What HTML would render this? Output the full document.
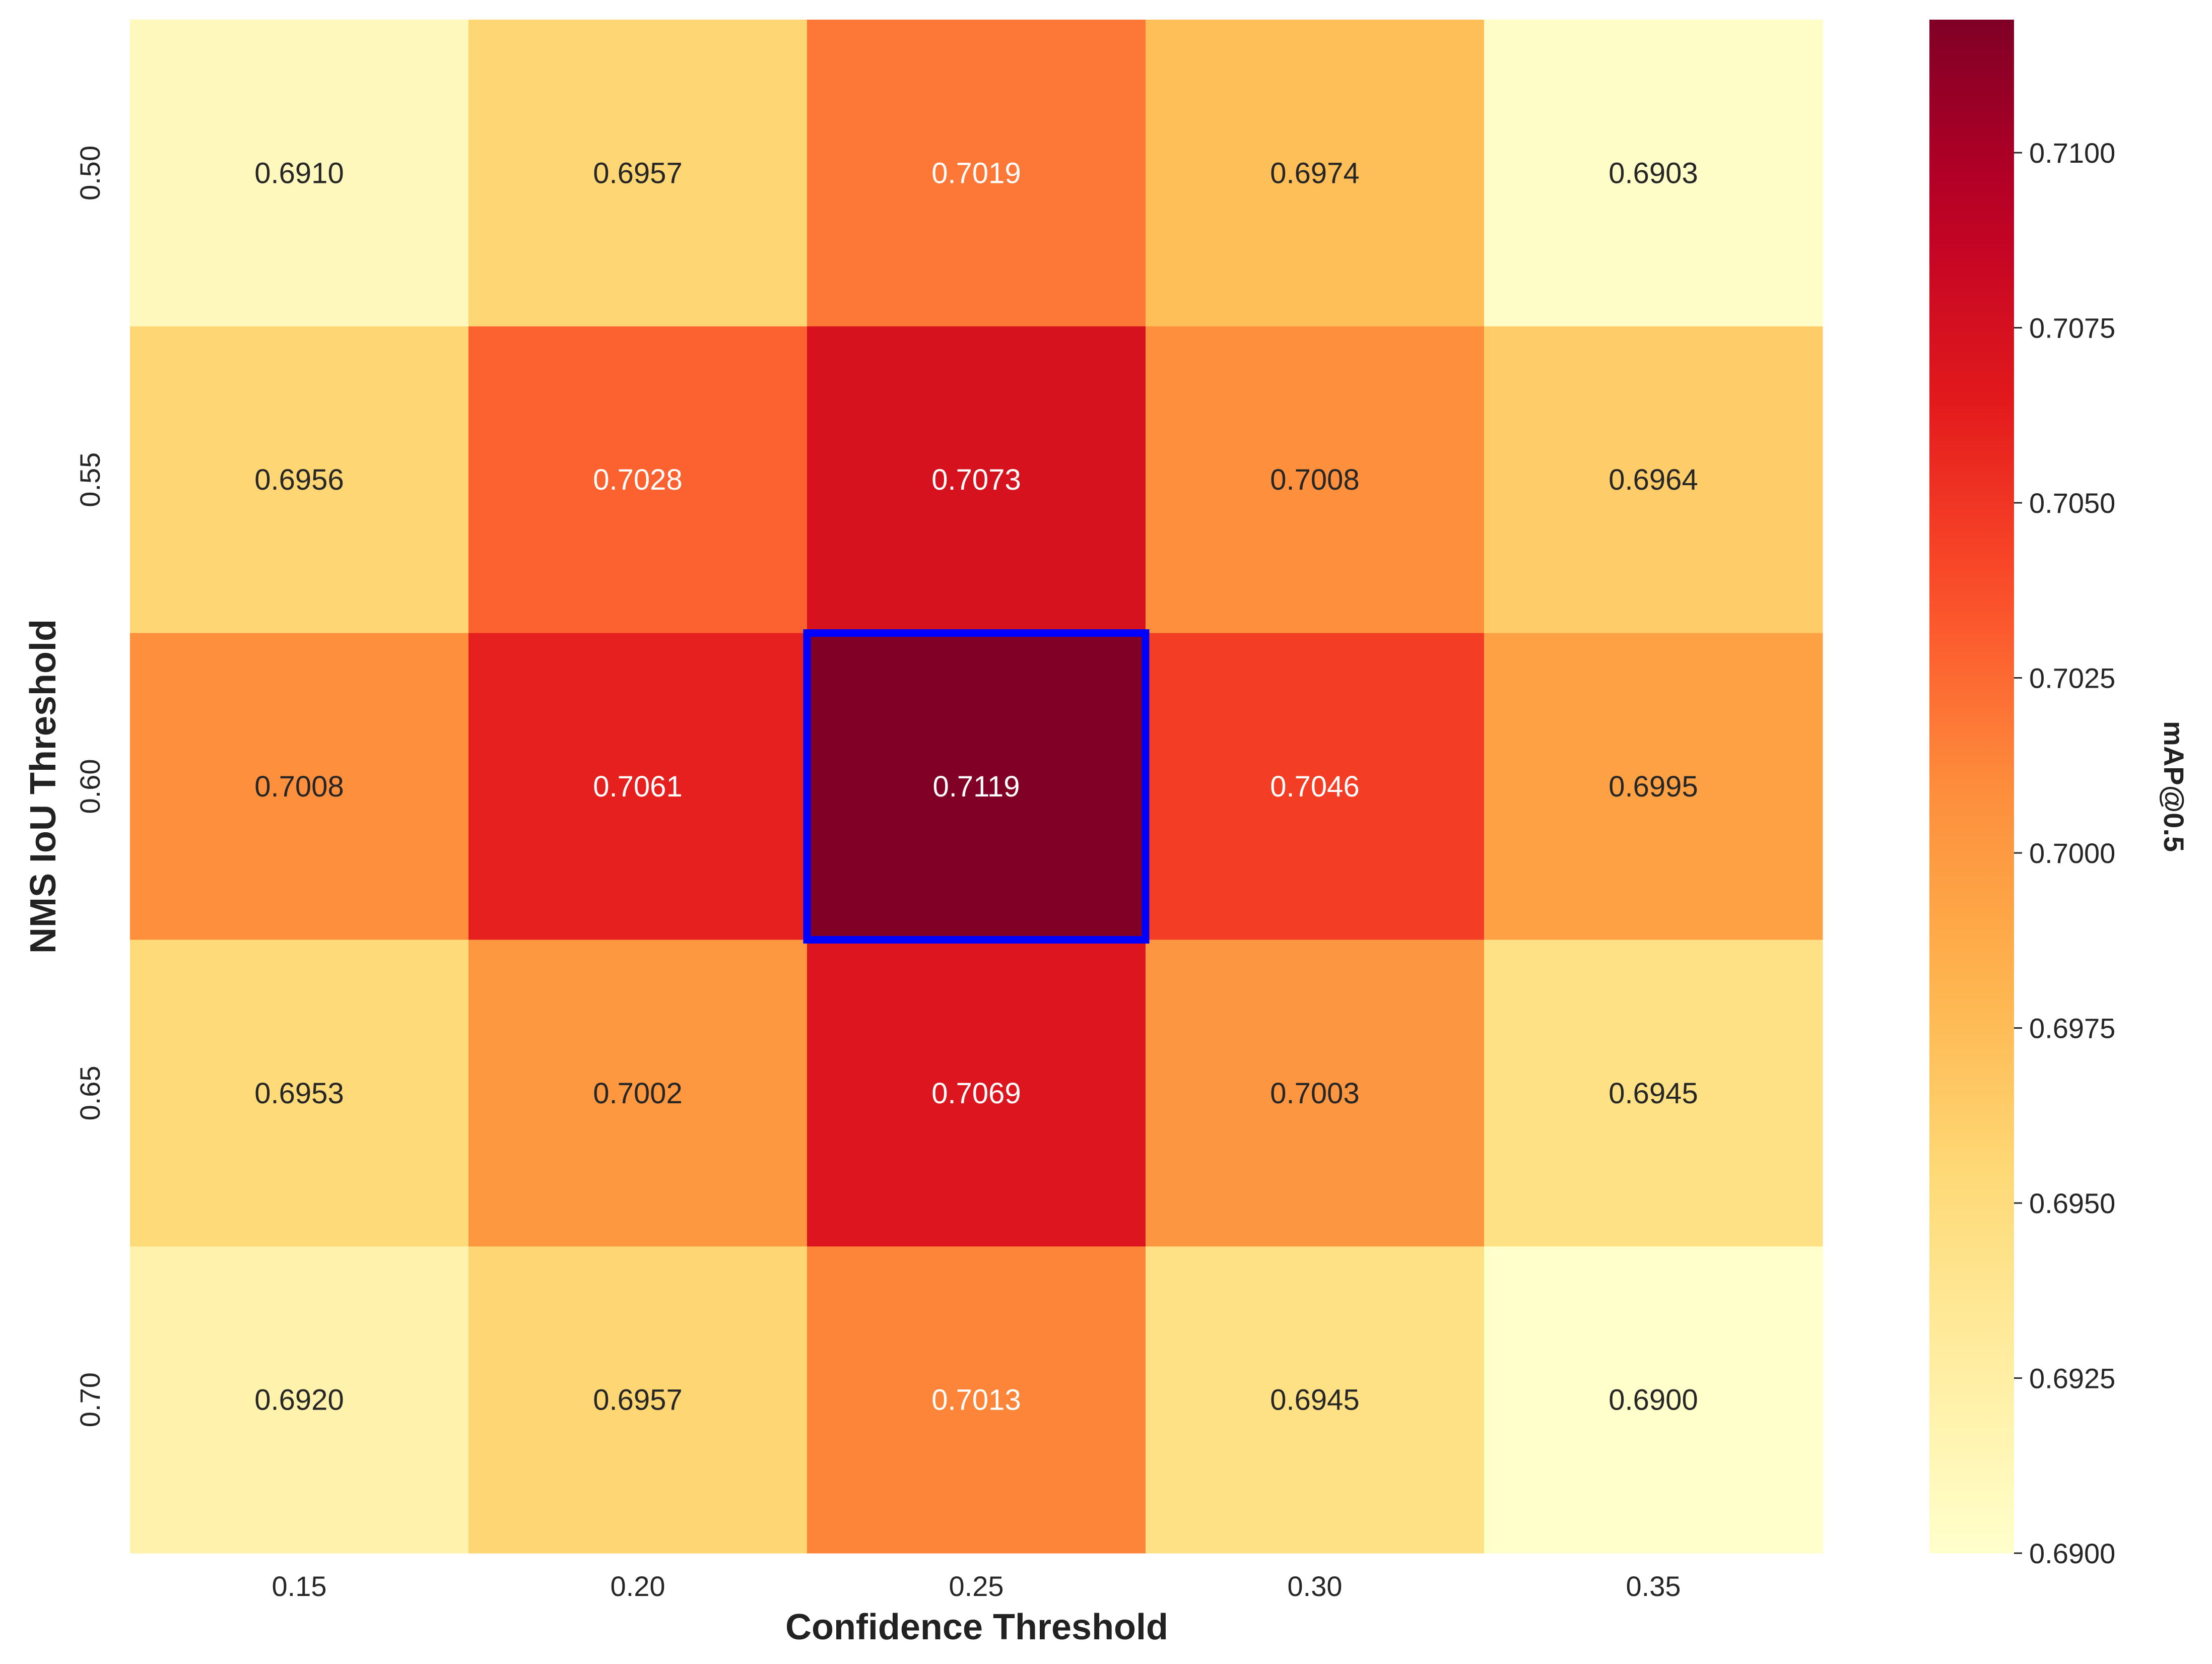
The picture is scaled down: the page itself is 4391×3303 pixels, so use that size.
<!DOCTYPE html>
<html><head><meta charset="utf-8"><style>
body{margin:0;background:#fff;}
svg text{font-family:"Liberation Sans",Arial,sans-serif;}
</style></head><body>
<svg id="chart" width="4391" height="3298" viewBox="0 0 4391 3298" xmlns="http://www.w3.org/2000/svg">
<defs><linearGradient id="cbgrad" x1="0" y1="1" x2="0" y2="0"></linearGradient></defs>
<g id="cells"></g>
<g id="labels"></g>
<g id="axes"></g>
<text x="1939" y="3254" font-size="72" font-weight="bold" text-anchor="middle" fill="#222">Confidence Threshold</text>
<text transform="translate(110,1561) rotate(-90)" font-size="72" font-weight="bold" text-anchor="middle" fill="#222">NMS IoU Threshold</text>
<rect x="3830" y="39" width="168" height="3044" fill="url(#cbgrad)"/>
<g id="cbticks"></g>
<text transform="translate(4296,1561) rotate(90)" font-size="56" font-weight="bold" text-anchor="middle" fill="#222">mAP@0.5</text>
</svg>
<script>
const xCategories = ["0.15","0.20","0.25","0.30","0.35"];
const yCategories = ["0.50","0.55","0.60","0.65","0.70"];
const row050 = [0.6910,0.6957,0.7019,0.6974,0.6903];
const row055 = [0.6956,0.7028,0.7073,0.7008,0.6964];
const row060 = [0.7008,0.7061,0.7119,0.7046,0.6995];
const row065 = [0.6953,0.7002,0.7069,0.7003,0.6945];
const row070 = [0.6920,0.6957,0.7013,0.6945,0.6900];
const values = [row050,row055,row060,row065,row070];
const cbTicks = [0.6900,0.6925,0.6950,0.6975,0.7000,0.7025,0.7050,0.7075,0.7100];
const highlight = [2,2];

const NS="http://www.w3.org/2000/svg";
const L=258,R=3618,T=39,B=3083,CBT=39,CBB=3083,CBX=3830,CBW=168;
const all=values.flat();
const vmin=Math.min(...all),vmax=Math.max(...all);
const cw=(R-L)/xCategories.length, ch=(B-T)/yCategories.length;
const xPos=i=>L+i*cw, yPos=j=>T+j*ch;
const cbY=v=>CBB-(v-vmin)/(vmax-vmin)*(CBB-CBT);
const stops=["#ffffcc","#ffeda0","#fed976","#feb24c","#fd8d3c","#fc4e2a","#e31a1c","#bd0026","#800026"].map(h=>[1,3,5].map(k=>parseInt(h.substr(k,2),16)));
function cmap(t){t=Math.max(0,Math.min(1,t));const p=t*(stops.length-1);const i=Math.min(Math.floor(p),stops.length-2);const f=p-i;return stops[i].map((c,k)=>Math.round(c+(stops[i+1][k]-c)*f));}
function lum(c){const l=c.map(x=>{x/=255;return x<=0.03928?x/12.92:Math.pow((x+0.055)/1.055,2.4);});return 0.2126*l[0]+0.7152*l[1]+0.0722*l[2];}
function mk(tag,attrs,parent,txt){const e=document.createElementNS(NS,tag);for(const k in attrs)e.setAttribute(k,attrs[k]);if(txt!==undefined)e.textContent=txt;parent.appendChild(e);return e;}
const cells=document.getElementById('cells'),labels=document.getElementById('labels'),axes=document.getElementById('axes');
values.forEach((row,j)=>row.forEach((v,i)=>{
  const c=cmap((v-vmin)/(vmax-vmin));
  const r=mk('rect',{x:xPos(i),y:yPos(j),width:cw+0.5,height:ch+0.5,fill:`rgb(${c})`},cells);
  
  
  const t=mk('text',{x:xPos(i)+cw/2,y:yPos(j)+ch/2+20,'font-size':58,'text-anchor':'middle',fill:lum(c)>0.408?'#262626':'#ffffff'},labels,v.toFixed(4));
  
  
}));
const hl=mk('rect',{x:xPos(highlight[1]),y:yPos(highlight[0]),width:cw,height:ch,fill:'none',stroke:'#0000ff','stroke-width':15},cells);


xCategories.forEach((c,i)=>{const t=mk('text',{x:xPos(i)+cw/2,y:3168,'font-size':56,'text-anchor':'middle',fill:'#262626'},axes,c);
  
  });
yCategories.forEach((c,j)=>{const y=yPos(j)+ch/2;const t=mk('text',{transform:`translate(198,${y}) rotate(-90)`,'font-size':56,'text-anchor':'middle',fill:'#262626'},axes,c);
  
  });
const grad=document.getElementById('cbgrad');
for(let k=0;k<=20;k++){const c=cmap(k/20);mk('stop',{offset:k/20,'stop-color':`rgb(${c})`},grad);}
const cbg=document.getElementById('cbticks');
cbTicks.forEach(v=>{const y=cbY(v);
  mk('line',{x1:CBX+CBW,x2:CBX+CBW+16,y1:y,y2:y,stroke:'#262626','stroke-width':3},cbg);
  const t=mk('text',{x:CBX+CBW+30,y:y+20,'font-size':56,fill:'#262626'},cbg,v.toFixed(4));
  
  });
</script>
</body></html>
